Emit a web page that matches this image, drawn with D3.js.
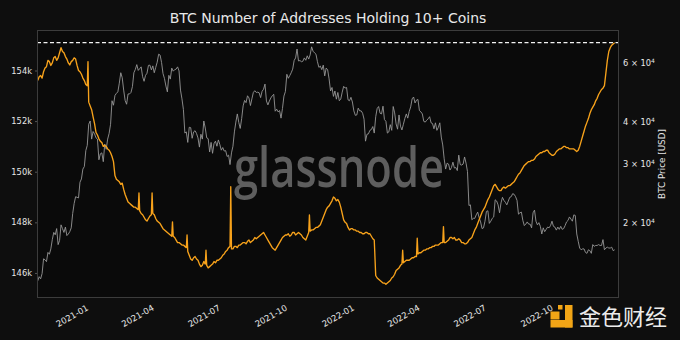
<!DOCTYPE html>
<html>
<head>
<meta charset="utf-8">
<script src="https://cdn.jsdelivr.net/npm/d3@7"></script>
<style>
  html, body { margin: 0; padding: 0; background: #0e0e0e; }
  svg { display: block; }
</style>
</head>
<body>
<svg id="chart" width="680" height="340"></svg>
<script>
// Both series hold one reading every 2 days from the start date
const startDate = "2020-10-29";
const stepDays = 2;

// Number of addresses holding 10+ BTC, in thousands
const addresses = [
  153.6, 153.75, 153.8, 153.7, 153.95, 154.1, 154.15, 154.4, 154.35, 154.2, 154.3, 154.5, 154.55, 154.4, 154.5, 154.7, 154.9, 154.75, 154.7, 154.55,
  154.45, 154.3, 154.22, 154.35, 154.4, 154.5, 154.45, 154.2, 154.0, 153.95, 153.85, 153.7, 153.6, 153.45, 153.4, 152.75, 152.6, 152.45, 152.17, 151.9,
  151.55, 151.45, 151.3, 151.2, 151.15, 151.0, 151.05, 151.0, 150.9, 150.85, 150.75, 150.6, 150.4, 149.85, 149.7, 149.65, 149.6, 149.5, 149.55, 149.3,
  149.1, 148.95, 148.8, 148.75, 148.7, 148.65, 148.6, 148.6, 148.55, 148.5, 148.45, 148.35, 148.3, 148.2, 148.1, 148.05, 148.15, 148.25, 148.3, 148.35,
  148.3, 148.15, 148.05, 148.0, 147.95, 147.85, 147.75, 147.7, 147.65, 147.6, 147.55, 147.5, 147.45, 147.45, 147.4, 147.3, 147.2, 147.2, 147.15, 147.1,
  147.1, 147.05, 147.0, 146.85, 146.7, 146.55, 146.5, 146.6, 146.65, 146.55, 146.5, 146.35, 146.25, 146.3, 146.45, 146.35, 146.3, 146.2, 146.25, 146.3,
  146.35, 146.45, 146.4, 146.5, 146.5, 146.55, 146.6, 146.7, 146.75, 146.85, 146.9, 147.0, 147.05, 146.95, 146.95, 147.05, 147.05, 147.0, 147.1, 147.1,
  147.15, 147.2, 147.2, 147.15, 147.25, 147.3, 147.2, 147.25, 147.3, 147.4, 147.35, 147.4, 147.45, 147.5, 147.55, 147.6, 147.5, 147.4, 147.3, 147.2,
  147.1, 147.0, 146.95, 146.9, 147.0, 147.1, 147.2, 147.3, 147.4, 147.45, 147.5, 147.5, 147.55, 147.45, 147.5, 147.6, 147.6, 147.5, 147.55, 147.6,
  147.55, 147.5, 147.4, 147.35, 147.3, 147.45, 147.6, 147.65, 147.7, 147.7, 147.75, 147.8, 147.8, 147.85, 147.9, 148.05, 148.2, 148.35, 148.5, 148.6,
  148.65, 148.75, 148.85, 149.0, 148.95, 148.85, 148.9, 148.8, 148.6, 148.35, 148.1, 148.0, 147.95, 147.8, 147.7, 147.75, 147.75, 147.7, 147.7, 147.65,
  147.65, 147.6, 147.6, 147.55, 147.55, 147.6, 147.6, 147.55, 147.55, 147.45, 147.35, 147.3, 145.9, 145.8, 145.75, 145.7, 145.65, 145.6, 145.6, 145.55,
  145.6, 145.65, 145.7, 145.8, 145.85, 145.95, 146.1, 146.15, 146.2, 146.3, 146.35, 146.4, 146.45, 146.5, 146.5, 146.5, 146.55, 146.6, 146.6, 146.65,
  146.65, 146.75, 146.8, 146.8, 146.85, 146.9, 146.9, 146.95, 146.95, 147.0, 147.0, 147.05, 147.05, 147.1, 147.1, 147.1, 147.15, 147.2, 147.2, 147.2,
  147.2, 147.25, 147.3, 147.4, 147.4, 147.35, 147.4, 147.3, 147.3, 147.35, 147.3, 147.2, 147.2, 147.15, 147.15, 147.2, 147.3, 147.35, 147.4, 147.55,
  147.7, 147.8, 147.95, 148.1, 148.25, 148.4, 148.5, 148.6, 148.75, 148.9, 149.0, 149.15, 149.3, 149.45, 149.5, 149.4, 149.3, 149.25, 149.25, 149.35,
  149.4, 149.35, 149.4, 149.45, 149.45, 149.5, 149.55, 149.6, 149.7, 149.8, 149.9, 149.95, 150.05, 150.15, 150.25, 150.3, 150.35, 150.4, 150.4, 150.45,
  150.45, 150.5, 150.6, 150.65, 150.7, 150.75, 150.75, 150.8, 150.8, 150.85, 150.85, 150.75, 150.7, 150.65, 150.65, 150.7, 150.8, 150.85, 150.9, 150.9,
  150.95, 151.0, 151.0, 150.95, 150.95, 150.9, 150.9, 150.9, 150.9, 150.85, 150.8, 150.85, 151.0, 151.2, 151.4, 151.6, 151.8, 151.95, 152.1, 152.3,
  152.45, 152.55, 152.65, 152.8, 152.9, 153.05, 153.15, 153.25, 153.3, 153.4, 153.9, 154.4, 154.75, 154.9, 155.0, 155.05, 155.1
];

// Single-day jumps in the address count, in thousands
const addressSpikes = [
  ["2021-01-06", 154.35],
  ["2021-03-17", 149.16],
  ["2021-04-04", 149.16],
  ["2021-05-02", 148.02],
  ["2021-05-22", 147.5],
  ["2021-06-17", 146.9],
  ["2021-07-21", 149.41],
  ["2021-11-06", 148.29],
  ["2022-03-14", 146.9],
  ["2022-04-03", 147.37],
  ["2022-05-09", 147.83]
];

// BTC price in USD on the same dates
const priceUsd = [
  13400, 13800, 13600, 14100, 15600, 15500, 15300, 16300, 16100, 16700, 17800, 18700, 18400, 19200, 17200, 17700, 19700, 19200, 18700, 19400,
  18300, 18500, 18800, 19300, 21300, 22800, 23900, 23800, 23700, 26400, 27000, 28900, 29400, 32800, 34000, 39300, 40200, 35500, 37400, 36800,
  35800, 35500, 30800, 32100, 32300, 30400, 34300, 33100, 35500, 36900, 39300, 46200, 44800, 47900, 48600, 49100, 52100, 56000, 54100, 49700,
  46300, 45100, 48400, 48400, 48900, 50900, 56000, 57300, 59200, 56900, 57600, 58300, 54500, 52800, 55000, 55800, 58900, 59000, 57100, 58700,
  56000, 58100, 60200, 63600, 63200, 60100, 55700, 53800, 51100, 49100, 55000, 53600, 57800, 56600, 57200, 57400, 58300, 56700, 49700, 46800,
  43500, 37000, 37300, 34700, 38500, 38400, 35700, 37300, 37600, 36900, 35800, 33600, 36700, 35500, 40200, 38300, 35800, 35600, 32500, 34700,
  32200, 34400, 35000, 33800, 35300, 34200, 32900, 33500, 32700, 32800, 31500, 31800, 29800, 32300, 33800, 37300, 39900, 42200, 39800, 38200,
  40900, 44600, 46300, 45600, 47800, 47100, 44700, 46800, 48900, 49500, 48900, 49000, 48800, 47200, 49300, 50000, 51800, 46100, 44900, 46100,
  47100, 47800, 48300, 43000, 43600, 42800, 43200, 41000, 43800, 47700, 49200, 55400, 53900, 54900, 56000, 57400, 60900, 62000, 65900, 60700,
  60900, 60400, 60600, 62000, 61000, 62900, 61500, 63300, 66900, 64900, 64200, 63600, 60400, 58100, 58600, 57200, 59000, 54800, 57800, 57200,
  53700, 49400, 50600, 47600, 49400, 46700, 48900, 46200, 46700, 49000, 51000, 50400, 50600, 46500, 46200, 47300, 45800, 43100, 41800, 41900,
  43900, 43100, 43100, 42400, 40700, 35000, 36700, 36800, 37700, 37900, 38700, 37000, 41400, 43800, 44400, 42400, 42200, 44500, 40600, 40100,
  37000, 37300, 39200, 37700, 44400, 42500, 39400, 38000, 41900, 38800, 37800, 39300, 40900, 42200, 41000, 42900, 44300, 46800, 47400, 45500,
  46400, 46600, 43200, 42800, 42200, 40100, 39900, 40400, 40800, 41400, 39700, 39500, 38100, 39700, 37700, 38500, 39700, 36000, 34100, 31000,
  28900, 30100, 29900, 28700, 29200, 30300, 29100, 29200, 28600, 31800, 29800, 29700, 29900, 31400, 30100, 28400, 22500, 22600, 20400, 20600,
  20600, 21100, 21500, 20700, 20100, 19200, 19300, 20200, 21600, 21700, 19900, 20200, 20600, 20800, 23400, 23200, 22600, 21400, 22900, 23800,
  23300, 23000, 22600, 23200, 23800, 23900, 24400, 24300, 23900, 23300, 21200, 21400, 21500, 20300, 19600, 19800, 20100, 19800, 19800, 19300,
  21400, 21800, 20200, 19700, 20000, 19500, 18500, 19300, 18800, 19100, 19400, 19300, 19600, 20200, 19500, 19400, 19000, 19400, 19100, 19500,
  19100, 19200, 19600, 20100, 20300, 20800, 20500, 20200, 21100, 21000, 18500, 17600, 16800, 16600, 16700, 16700, 16300, 16200, 16600, 16500,
  16200, 17200, 17000, 17100, 17100, 17200, 17100, 17100, 17800, 16600, 16800, 16900, 16800, 16800, 16900, 16500, 16600
];

const addressTicks = [146, 148, 150, 152, 154];
const priceTicks = [20000, 30000, 40000, 60000];
const dateTicks = ["2021-01-01", "2021-04-01", "2021-07-01", "2021-10-01",
                   "2022-01-01", "2022-04-01", "2022-07-01", "2022-10-01"];

const title = "BTC Number of Addresses Holding 10+ Coins";
const rightLabel = "BTC Price [USD]";

// ---- layout ----
const W = 680, H = 340;
const plot = { left: 37, right: 619, top: 30, bottom: 298 };
const font = "'DejaVu Sans', sans-serif";

const svg = d3.select("#chart");
const parse = d3.utcParse("%Y-%m-%d");
const t0 = parse(startDate);
const dates = addresses.map((_, i) => d3.utcDay.offset(t0, i * stepDays));

const x = d3.scaleUtc()
  .domain([parse("2020-10-28"), parse("2023-01-05")])
  .range([plot.left, plot.right]);
const yAddr = d3.scaleLinear()
  .domain([145.01, 155.6])
  .range([plot.bottom, plot.top]);
const yPrice = d3.scaleLog()
  .domain([11920, 75100])
  .range([plot.bottom, plot.top]);

svg.append("rect").attr("width", W).attr("height", H).attr("fill", "#0e0e0e");
svg.append("rect")
  .attr("x", plot.left).attr("y", plot.top)
  .attr("width", plot.right - plot.left).attr("height", plot.bottom - plot.top)
  .attr("fill", "#0a0a0a");

// title
svg.append("text")
  .attr("x", (plot.left + plot.right) / 2).attr("y", 23)
  .attr("text-anchor", "middle")
  .attr("fill", "#e8e8e8")
  .style("font-family", font).style("font-size", "14px")
  .text(title);

// watermark
svg.append("text")
  .attr("x", 339).attr("y", 187)
  .attr("text-anchor", "middle")
  .attr("fill", "#5e5e5e")
  .attr("textLength", 210).attr("lengthAdjust", "spacingAndGlyphs")
  .style("font-family", "'Open Sans', sans-serif").style("font-size", "56px")
  .style("font-weight", 600)
  .text("glassnode");

svg.append("clipPath").attr("id", "plotclip")
  .append("rect")
  .attr("x", plot.left).attr("y", plot.top)
  .attr("width", plot.right - plot.left).attr("height", plot.bottom - plot.top);

const g = svg.append("g").attr("clip-path", "url(#plotclip)");

// price line
const priceLine = d3.line()
  .x((d, i) => x(dates[i]))
  .y(d => yPrice(d));
g.append("path")
  .datum(priceUsd)
  .attr("d", priceLine)
  .attr("fill", "none")
  .attr("stroke", "#969696")
  .attr("stroke-width", 0.9)
  .attr("stroke-linejoin", "round");

// address line
const addrPoints = addresses.map((v, i) => ({ date: dates[i], v }))
  .concat(addressSpikes.map(([d, v]) => ({ date: parse(d), v })))
  .sort((a, b) => a.date - b.date);
const addrLine = d3.line()
  .x(d => x(d.date))
  .y(d => yAddr(d.v));
g.append("path")
  .datum(addrPoints)
  .attr("d", addrLine)
  .attr("fill", "none")
  .attr("stroke", "#f7a21b")
  .attr("stroke-width", 1.35)
  .attr("stroke-linejoin", "round");

// dashed line at the highest address count
const maxAddr = d3.max(addrPoints, d => d.v);
svg.append("line")
  .attr("x1", plot.left).attr("x2", plot.right)
  .attr("y1", yAddr(maxAddr)).attr("y2", yAddr(maxAddr))
  .attr("stroke", "#f2f2f2")
  .attr("stroke-width", 1.2)
  .attr("stroke-dasharray", "4,2.5");

// frame
svg.append("rect")
  .attr("x", plot.left + 0.5).attr("y", plot.top + 0.5)
  .attr("width", plot.right - plot.left - 1).attr("height", plot.bottom - plot.top - 1)
  .attr("fill", "none")
  .attr("stroke", "#3c3c3c")
  .attr("stroke-width", 1);

// left axis
const leftAxis = svg.append("g")
  .attr("transform", `translate(${plot.left},0)`)
  .call(d3.axisLeft(yAddr).tickValues(addressTicks).tickFormat(d => d + "k").tickSize(2).tickPadding(3));
leftAxis.select(".domain").remove();
leftAxis.selectAll("line").attr("stroke", "#555");
leftAxis.selectAll("text")
  .attr("fill", "#e6e6e6")
  .style("font-family", font).style("font-size", "8.3px");

// right axis (log scale, mantissa × 10^4)
const rightAxis = svg.append("g")
  .attr("transform", `translate(${plot.right},0)`)
  .call(d3.axisRight(yPrice).tickValues(priceTicks).tickFormat("").tickSize(0));
rightAxis.select(".domain").remove();
rightAxis.selectAll(".tick").each(function (d) {
  const t = d3.select(this).select("text")
    .attr("x", 4).attr("dy", "0.32em")
    .attr("fill", "#e6e6e6")
    .attr("text-anchor", "start")
    .style("font-family", font).style("font-size", "8.3px");
  t.append("tspan").text(`${d / 1e4} \u00d7 10`);
  t.append("tspan").attr("dy", "-0.45em").style("font-size", "6px").text("4");
});

svg.append("text")
  .attr("transform", `translate(665,${(plot.top + plot.bottom) / 2}) rotate(-90)`)
  .attr("text-anchor", "middle")
  .attr("fill", "#e6e6e6")
  .style("font-family", font).style("font-size", "8.8px")
  .text(rightLabel);

// bottom axis with slanted date labels
const bottomAxis = svg.append("g")
  .attr("transform", `translate(0,${plot.bottom})`)
  .call(d3.axisBottom(x).tickValues(dateTicks.map(parse)).tickFormat(d3.utcFormat("%Y-%m")).tickSize(0));
bottomAxis.select(".domain").remove();
bottomAxis.selectAll("text")
  .attr("fill", "#e6e6e6")
  .attr("text-anchor", "end")
  .attr("dominant-baseline", "hanging")
  .attr("x", 1).attr("y", 6).attr("dy", null)
  .attr("transform", "rotate(-30, 1, 6)")
  .style("font-family", font).style("font-size", "8.5px");

// publisher mark, lower right
const mark = svg.append("g").attr("fill", "#f2a516");
mark.append("rect").attr("x", 550.5).attr("y", 311.5).attr("width", 9).attr("height", 8);
mark.append("rect").attr("x", 558).attr("y", 305).attr("width", 4.5).attr("height", 4.5);
mark.append("rect").attr("x", 565).attr("y", 305).attr("width", 7.5).attr("height", 22.5);
mark.append("rect").attr("x", 550.5).attr("y", 320).attr("width", 22).attr("height", 7.5);
svg.append("text")
  .attr("x", 579).attr("y", 325)
  .attr("fill", "#ececec")
  .style("font-family", "'Noto Sans CJK SC', sans-serif").style("font-size", "22px")
  .text("金色财经");
</script>
</body>
</html>
